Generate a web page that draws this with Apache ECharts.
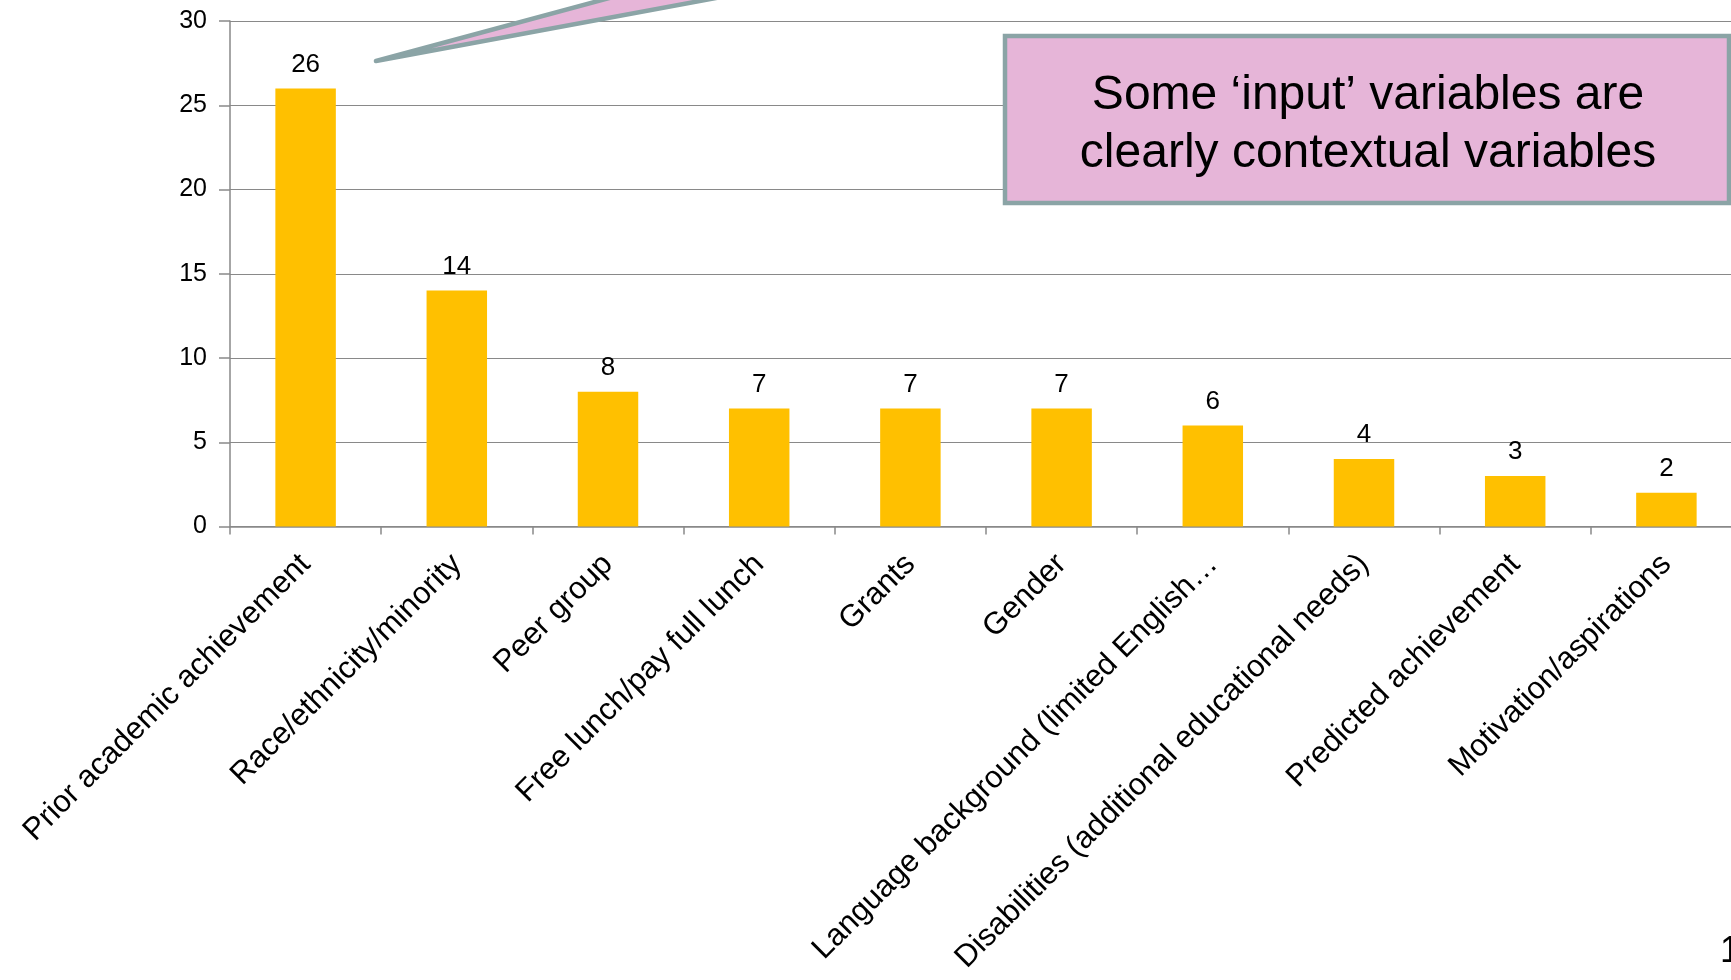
<!DOCTYPE html>
<html>
<head>
<meta charset="utf-8">
<title>Input variables</title>
<script src="https://cdn.jsdelivr.net/npm/echarts@6/dist/echarts.min.js"></script>
<style>
  html, body { margin: 0; padding: 0; background: #ffffff; overflow: hidden; }
  /* the drawing surface is a little wider than the page so the plot can run off its right edge */
  #chart { width: 1770px; height: 980px; }
</style>
</head>
<body>
<div id="chart"></div>
<script>
// Number of studies using each input variable
const categories = [
  'Prior academic achievement',
  'Race/ethnicity/minority',
  'Peer group',
  'Free lunch/pay full lunch',
  'Grants',
  'Gender',
  'Language background (limited English…',
  'Disabilities (additional educational needs)',
  'Predicted achievement',
  'Motivation/aspirations'
];
const counts = [26, 14, 8, 7, 7, 7, 6, 4, 3, 2];
const yTicks = { min: 0, max: 30, interval: 5 };

const calloutText = 'Some \u2018input\u2019 variables are\nclearly contextual variables';
const pageNumber = '1';

const FONT = '"Liberation Sans", Arial, sans-serif';
const GRID_GREY = '#898989';
const CALLOUT_FILL = '#E6B5D8';
const CALLOUT_EDGE = '#8BA4A6';

const chart = echarts.init(document.getElementById('chart'), null, { renderer: 'canvas' });

chart.setOption({
  backgroundColor: '#ffffff',
  animation: false,
  textStyle: { fontFamily: FONT, color: '#000000' },
  grid: { left: 230, top: 21, width: 1512, height: 505.5, containLabel: false },
  xAxis: {
    type: 'category',
    data: categories,
    axisLine: { show: true, lineStyle: { color: GRID_GREY, width: 1.5 } },
    axisTick: { show: true, length: 8, lineStyle: { color: GRID_GREY, width: 1.5 } },
    axisLabel: {
      rotate: 45,
      interval: 0,
      margin: 33,
      fontSize: 31,
      fontFamily: FONT,
      color: '#000000'
    }
  },
  yAxis: {
    type: 'value',
    min: yTicks.min,
    max: yTicks.max,
    interval: yTicks.interval,
    axisLine: { show: true, lineStyle: { color: GRID_GREY, width: 1.5 } },
    axisTick: { show: true, inside: false, length: 11, lineStyle: { color: GRID_GREY, width: 1.5 } },
    axisLabel: { fontSize: 25, margin: 23, fontFamily: FONT, color: '#000000' },
    splitLine: { show: true, lineStyle: { color: GRID_GREY, width: 1.2 } }
  },
  series: [{
    type: 'bar',
    data: counts,
    barWidth: '40%',
    itemStyle: { color: '#FFC000' },
    label: {
      show: true,
      position: 'top',
      distance: 11,
      fontSize: 26,
      fontFamily: FONT,
      color: '#000000'
    }
  }],
  graphic: [
    // pointer of a callout coming in from above the top edge
    {
      type: 'polygon',
      z: 100,
      shape: { points: [[376, 61], [750, -40], [921, -40]] },
      style: { fill: CALLOUT_FILL, stroke: CALLOUT_EDGE, lineWidth: 4.5, lineJoin: 'round' }
    },
    // annotation box
    {
      type: 'rect',
      z: 100,
      shape: { x: 1005, y: 36, width: 724, height: 167 },
      style: { fill: CALLOUT_FILL, stroke: CALLOUT_EDGE, lineWidth: 4.5 }
    },
    {
      type: 'text',
      z: 101,
      x: 1368,
      y: 125,
      style: {
        text: calloutText,
        fontSize: 48,
        lineHeight: 58,
        fontFamily: FONT,
        fill: '#000000',
        align: 'center',
        verticalAlign: 'middle'
      }
    },
    // slide number in the corner
    {
      type: 'text',
      z: 101,
      x: 1720,
      y: 934,
      style: { text: pageNumber, fontSize: 36, fontFamily: FONT, fill: '#000000' }
    }
  ]
});
</script>
</body>
</html>
